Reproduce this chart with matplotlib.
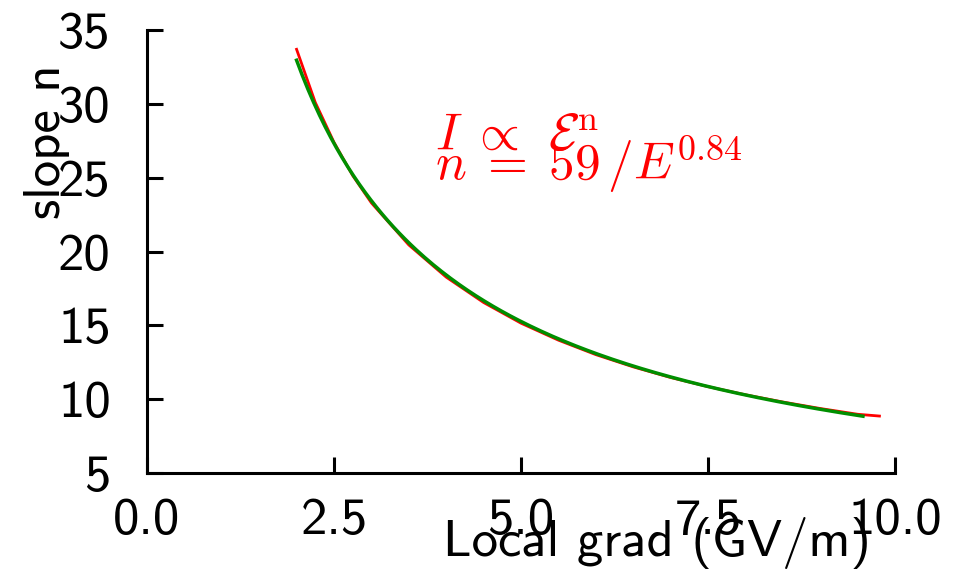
import numpy as np
import matplotlib
matplotlib.use('Agg')
import matplotlib.pyplot as plt

plt.rcParams['font.family'] = ['cmss10', 'DejaVu Sans']
plt.rcParams['mathtext.fontset'] = 'cm'
plt.rcParams['axes.unicode_minus'] = False

# measured slope vs local gradient
grad = [2.0, 2.25, 2.5, 2.75, 3.0, 3.5, 4.0, 4.5, 5.0, 5.5, 6.0, 6.5,
        7.0, 7.5, 8.0, 8.5, 9.0, 9.5, 9.79]
slope = [33.7, 30.1, 27.4, 25.15, 23.3, 20.45, 18.27, 16.55, 15.15, 14.0,
         13.02, 12.19, 11.47, 10.85, 10.30, 9.81, 9.37, 8.98, 8.86]

# power-law fit n = A / E^b
fit_A = 59
fit_b = 0.84
fit_range = (2.0, 9.57)

fig = plt.figure(figsize=(9.73, 5.79), dpi=100)
ax = fig.add_axes([0.151, 0.183, 0.769, 0.765])

ax.plot(grad, slope, color='red', lw=2.0)
E = np.linspace(fit_range[0], fit_range[1], 200)
ax.plot(E, fit_A / E**fit_b, color='#008f00', lw=2.5)

ax.text(3.85, 26.9, r'$I\;\propto\;\,\mathcal{E}^{\rm n}$', color='red',
        fontsize=37, va='baseline')
ax.text(3.85, 24.8, r'$n\;=\;%d\,/E^{%.2f}$' % (fit_A, fit_b), color='red',
        fontsize=37, va='baseline')

ax.set_xlim(0, 10)
ax.set_ylim(5, 35)
ax.set_xticks([0, 2.5, 5, 7.5, 10])
ax.set_xticklabels(['0.0', '2.5', '5.0', '7.5', '10.0'])
ax.set_yticks([5, 10, 15, 20, 25, 30, 35])

for side in ['top', 'right']:
    ax.spines[side].set_visible(False)
for side in ['left', 'bottom']:
    ax.spines[side].set_linewidth(2.2)

ax.tick_params(axis='both', direction='in', length=11.5, width=2.2,
               labelsize=38)
ax.tick_params(axis='x', pad=18)
ax.tick_params(axis='y', pad=26)

ax.set_xlabel('Local grad (GV/m)', fontsize=38)
ax.set_ylabel('slope n', fontsize=38)
ax.xaxis.set_label_coords(0.682, -0.10)
ax.yaxis.set_label_coords(-0.103, 0.747)

fig.savefig('out.png', dpi=100)
